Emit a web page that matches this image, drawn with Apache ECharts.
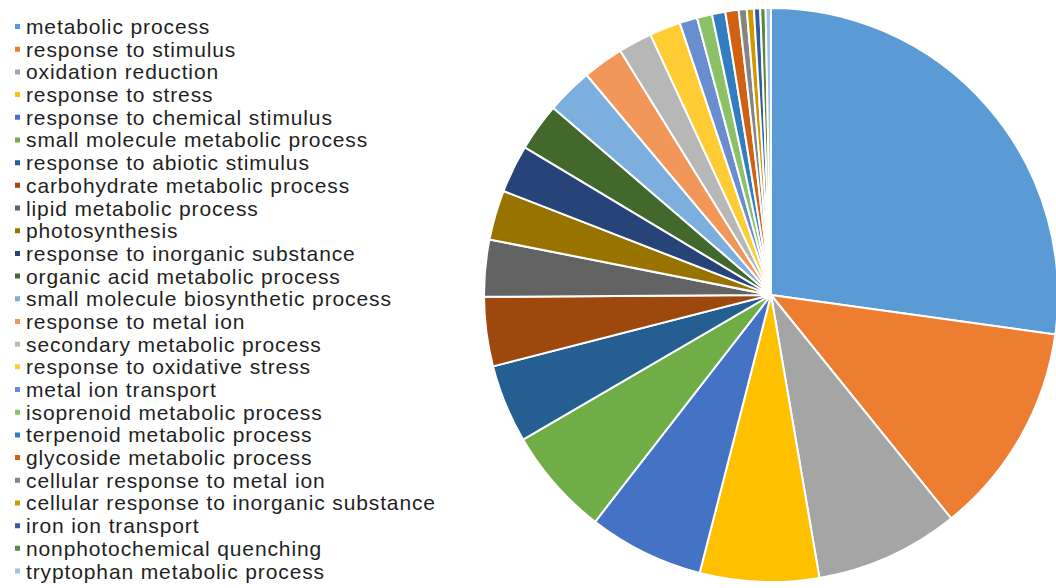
<!DOCTYPE html>
<html>
<head>
<meta charset="utf-8">
<script src="https://cdn.jsdelivr.net/npm/echarts@6/dist/echarts.min.js"></script>
<style>
  html, body { margin: 0; padding: 0; background: #fff; }
  #chart { width: 1056px; height: 588px; }
  /* slightly looser tracking for the legend labels */
  #chart svg text { letter-spacing: 0.88px; }
</style>
</head>
<body>
<div id="chart"></div>
<script>
// GO biological process terms, share of annotated genes (%)
const categories = [
  'metabolic process',
  'response to stimulus',
  'oxidation reduction',
  'response to stress',
  'response to chemical stimulus',
  'small molecule metabolic process',
  'response to abiotic stimulus',
  'carbohydrate metabolic process',
  'lipid metabolic process',
  'photosynthesis',
  'response to inorganic substance',
  'organic acid metabolic process',
  'small molecule biosynthetic process',
  'response to metal ion',
  'secondary metabolic process',
  'response to oxidative stress',
  'metal ion transport',
  'isoprenoid metabolic process',
  'terpenoid metabolic process',
  'glycoside metabolic process',
  'cellular response to metal ion',
  'cellular response to inorganic substance',
  'iron ion transport',
  'nonphotochemical quenching',
  'tryptophan metabolic process'
];
const values = [
  27.2, 12.0, 8.1, 6.7, 6.5, 6.1, 4.4, 3.9, 3.2, 2.8,
  2.7, 2.7, 2.6, 2.3, 1.9, 1.75, 1.0, 0.85, 0.75, 0.75,
  0.45, 0.4, 0.35, 0.3, 0.3
];
const colors = [
  '#5B9BD5', '#ED7D31', '#A5A5A5', '#FFC000', '#4472C4', '#70AD47',
  '#255E91', '#9E480E', '#636363', '#997300', '#264478', '#43682B',
  '#7CAFDD', '#F1975A', '#B7B7B7', '#FFCD33', '#698ED0', '#8CC168',
  '#327DC2', '#D26012', '#848484', '#CC9A00', '#335AA1', '#5A8A39',
  '#9DC3E6'
];

const chart = echarts.init(document.getElementById('chart'), null, { renderer: 'svg' });
chart.setOption({
  animation: false,
  color: colors,
  legend: {
    orient: 'vertical',
    left: 13,
    top: 15.5,
    padding: 0,
    itemWidth: 7,
    itemHeight: 7,
    itemGap: 0.69,
    icon: 'rect',
    selectedMode: false,
    textStyle: {
      fontFamily: 'Liberation Sans, Arial, sans-serif',
      fontSize: 21,
      lineHeight: 22,
      color: '#1f1f1f'
    },
    data: categories
  },
  series: [{
    type: 'pie',
    center: [771, 295],
    radius: [0, 287],
    startAngle: 90,
    clockwise: true,
    avoidLabelOverlap: false,
    label: { show: false },
    labelLine: { show: false },
    itemStyle: { borderColor: '#fff', borderWidth: 2 },
    data: categories.map((name, i) => ({ name, value: values[i] }))
  }]
});
</script>
</body>
</html>
